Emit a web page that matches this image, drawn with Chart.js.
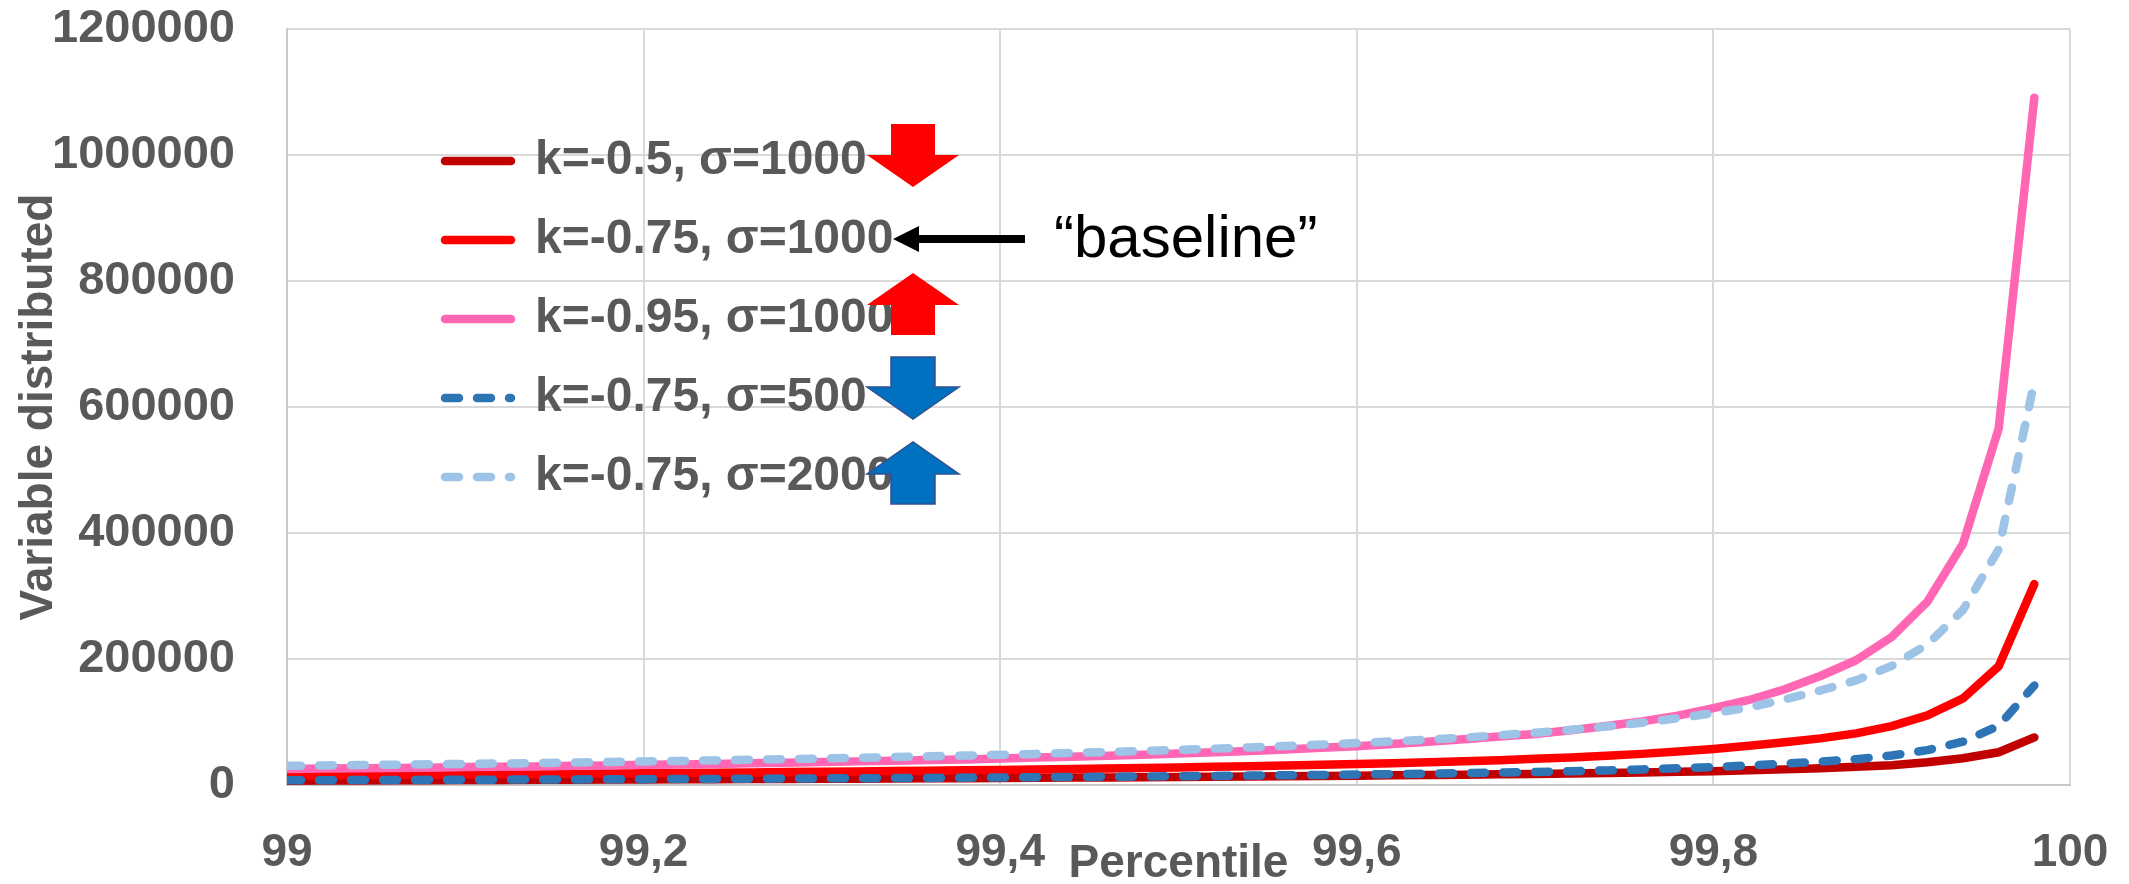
<!DOCTYPE html>
<html>
<head>
<meta charset="utf-8">
<title>Variable distributed vs percentile</title>
<script src="https://cdn.jsdelivr.net/npm/chart.js@4.4.1/dist/chart.umd.min.js"></script>
<style>
  html, body { margin: 0; padding: 0; background: #fff; }
  #wrap { width: 2129px; height: 884px; }
</style>
</head>
<body>
<div id="wrap"><canvas id="gpdChart"></canvas></div>
<script>
// percentile positions (x)
const percentiles = [99, 99.02, 99.04, 99.06, 99.08, 99.1, 99.12, 99.14, 99.16, 99.18,
    99.2, 99.22, 99.24, 99.26, 99.28, 99.3, 99.32, 99.34, 99.36, 99.38,
    99.4, 99.42, 99.44, 99.46, 99.48, 99.5, 99.52, 99.54, 99.56, 99.58,
    99.6, 99.62, 99.64, 99.66, 99.68, 99.7, 99.72, 99.74, 99.76, 99.78,
    99.8, 99.82, 99.84, 99.86, 99.88, 99.9, 99.92, 99.94, 99.96, 99.98];

// values
const k050s1000 = [6800, 7000, 7200, 7400, 7600, 7800, 8000, 8200, 8400, 8600,
    8800, 9000, 9200, 9400, 9600, 9900, 10100, 10400, 10600, 10900,
    11200, 11500, 11800, 12100, 12400, 12800, 13100, 13500, 13900, 14300,
    14800, 15300, 15800, 16300, 16900, 17500, 18200, 19000, 19900, 20900,
    22000, 23300, 24800, 26600, 28800, 31500, 36000, 42500, 52000, 75500];
const k075s1000 = [15000, 15300, 15600, 16000, 16300, 16700, 17000, 17400, 17800, 18200,
    18600, 19000, 19500, 20000, 20500, 21000, 21500, 22100, 22700, 23300,
    24000, 24700, 25400, 26200, 27000, 27900, 28800, 29800, 30900, 32000,
    33200, 34600, 36000, 37600, 39400, 41500, 43800, 46300, 49400, 53000,
    57300, 62300, 67700, 74000, 82000, 93500, 110500, 137500, 188500, 319000];
const k095s1000 = [25500, 26000, 26500, 27000, 27500, 28500, 29000, 29500, 30500, 31000,
    32000, 32500, 33500, 34500, 35500, 36500, 37500, 38500, 39500, 40500,
    42000, 43500, 45000, 46500, 48000, 50000, 52000, 54000, 56500, 59000,
    61500, 65000, 68500, 72500, 77000, 81000, 87000, 93500, 101000, 110000,
    122000, 135000, 152000, 173000, 198000, 235000, 291000, 383000, 566000, 1091000];
const k075s500 = [7500, 7600, 7800, 8000, 8200, 8300, 8500, 8700, 8900, 9100,
    9300, 9500, 9700, 10000, 10200, 10500, 10800, 11000, 11300, 11700,
    12000, 12300, 12700, 13100, 13500, 14000, 14400, 14900, 15400, 16000,
    16600, 17300, 18000, 18800, 19700, 20700, 21900, 23200, 24700, 26500,
    28600, 31000, 33800, 37000, 41000, 46800, 55300, 68800, 94000, 158000];
const k075s2000 = [30500, 31000, 31600, 32200, 32800, 33500, 34100, 34800, 35500, 36400,
    37300, 38100, 39000, 40000, 41000, 42000, 43100, 44300, 45500, 46700,
    48000, 49400, 50900, 52400, 54100, 55900, 57700, 59700, 61800, 64100,
    66500, 69200, 72100, 75300, 78900, 83000, 87600, 92800, 98900, 106000,
    114000, 123000, 136000, 150000, 166000, 189000, 223000, 278000, 374000, 640000];

const seriesNames = ['k=-0.5, σ=1000', 'k=-0.75, σ=1000', 'k=-0.95, σ=1000', 'k=-0.75, σ=500', 'k=-0.75, σ=2000'];
const xTickLabels = ['99', '99,2', '99,4', '99,6', '99,8', '100'];
const yTickLabels = ['0', '200000', '400000', '600000', '800000', '1000000', '1200000'];

const FONT = "'Liberation Sans', Arial, sans-serif";
const GREY = '#595959';

function pts(vals) {
    return percentiles.map((x, i) => ({ x: x, y: vals[i] }));
}

function line(label, vals, color, dash, order) {
    return {
        label: label,
        data: pts(vals),
        borderColor: color,
        backgroundColor: color,
        borderWidth: 8.5,
        borderDash: dash,
        borderCapStyle: 'round',
        borderJoinStyle: 'round',
        pointRadius: 0,
        tension: 0,
        fill: false,
        order: order
    };
}

// put the legend inside the plot, upper left
const legendPlacer = {
    id: 'legendPlacer',
    afterLayout(chart) {
        const lg = chart.legend, ca = chart.chartArea;
        const w = lg.width, h = lg.height;
        lg.left = ca.left + 127;
        lg.top = ca.top + 77;
        lg.right = lg.left + w;
        lg.bottom = lg.top + h;
    }
};

// block arrows and the "baseline" note next to the legend
function blockArrow(ctx, cx, yTail, yBase, yTip, fill, stroke) {
    ctx.beginPath();
    ctx.moveTo(cx - 22, yTail);
    ctx.lineTo(cx + 22, yTail);
    ctx.lineTo(cx + 22, yBase);
    ctx.lineTo(cx + 46, yBase);
    ctx.lineTo(cx, yTip);
    ctx.lineTo(cx - 46, yBase);
    ctx.lineTo(cx - 22, yBase);
    ctx.closePath();
    ctx.fillStyle = fill;
    ctx.fill();
    if (stroke) {
        ctx.strokeStyle = stroke;
        ctx.lineWidth = 1.5;
        ctx.stroke();
    }
}

const notes = {
    id: 'notes',
    afterDraw(chart) {
        const ctx = chart.ctx, ca = chart.chartArea;
        const L = ca.left, T = ca.top;
        const cx = L + 626;
        ctx.save();
        blockArrow(ctx, cx, T + 95, T + 126, T + 158, '#FF0000');
        blockArrow(ctx, cx, T + 306, T + 276, T + 244, '#FF0000');
        blockArrow(ctx, cx, T + 328, T + 358, T + 390, '#0070C0', '#2F528F');
        blockArrow(ctx, cx, T + 475, T + 445, T + 413, '#0070C0', '#2F528F');

        // black pointer to the baseline series
        ctx.fillStyle = '#000';
        ctx.fillRect(L + 628, T + 206, 110, 8);
        ctx.beginPath();
        ctx.moveTo(L + 606, T + 210);
        ctx.lineTo(L + 632, T + 197);
        ctx.lineTo(L + 632, T + 223);
        ctx.closePath();
        ctx.fill();

        ctx.font = '60px ' + FONT;
        ctx.textAlign = 'left';
        ctx.textBaseline = 'alphabetic';
        ctx.fillText('\u201Cbaseline\u201D', L + 767, T + 228);
        ctx.restore();
    }
};

document.addEventListener("DOMContentLoaded", function() {
    const ctx = document.getElementById('gpdChart').getContext('2d');
    const baseLabels = Chart.defaults.plugins.legend.labels.generateLabels;

    new Chart(ctx, {
        type: 'line',
        data: {
            datasets: [
                line(seriesNames[0], k050s1000, '#C00000', [], 5),
                line(seriesNames[1], k075s1000, '#FF0000', [], 4),
                line(seriesNames[2], k095s1000, '#FF66B3', [], 3),
                line(seriesNames[3], k075s500, '#2E75B6', [14, 18], 2),
                line(seriesNames[4], k075s2000, '#9DC3E6', [14, 18], 1)
            ]
        },
        options: {
            responsive: true,
            maintainAspectRatio: false,
            animation: false,
            devicePixelRatio: 1,
            layout: { padding: 0 },
            scales: {
                x: {
                    type: 'linear',
                    min: 99,
                    max: 100,
                    ticks: {
                        stepSize: 0.2,
                        padding: 41,
                        color: GREY,
                        font: { family: FONT, size: 46, weight: 'bold' },
                        callback: (v, i) => xTickLabels[i]
                    },
                    grid: { color: '#D9D9D9', lineWidth: 2, drawTicks: false },
                    border: { color: '#C8C8C8', width: 2 },
                    title: {
                        display: true,
                        text: 'Percentile',
                        color: GREY,
                        font: { family: FONT, size: 46, weight: 'bold' },
                        padding: { top: -44.8, bottom: -7.6 }
                    },
                    afterFit: function(scale) {
                        scale.height = 99;
                        scale.paddingLeft = 26;
                        scale.paddingRight = 59;
                    }
                },
                y: {
                    min: 0,
                    max: 1200000,
                    ticks: {
                        stepSize: 200000,
                        padding: 52,
                        color: GREY,
                        font: { family: FONT, size: 47, weight: 'bold' },
                        callback: (v, i) => yTickLabels[i]
                    },
                    grid: { color: '#D9D9D9', lineWidth: 2, drawTicks: false },
                    border: { color: '#C8C8C8', width: 2 },
                    title: {
                        display: true,
                        text: 'Variable distributed',
                        color: GREY,
                        font: { family: FONT, size: 46, weight: 'bold' },
                        padding: { top: 12, bottom: 0 }
                    },
                    afterFit: function(scale) {
                        scale.width = 287;
                        scale.paddingTop = 29;
                        scale.paddingBottom = 28;
                    }
                }
            },
            plugins: {
                legend: {
                    position: 'chartArea',
                    align: 'start',
                    labels: {
                        usePointStyle: true,
                        pointStyle: 'line',
                        pointStyleWidth: 66,
                        padding: 31,
                        color: GREY,
                        font: { family: FONT, size: 48, weight: 'bold' },
                        sort: (a, b) => a.datasetIndex - b.datasetIndex,
                        generateLabels: function(chart) {
                            return baseLabels(chart).map(item => {
                                const ds = chart.data.datasets[item.datasetIndex];
                                item.lineWidth = ds.borderWidth;
                                item.lineDash = ds.borderDash;
                                item.lineCap = 'round';
                                item.strokeStyle = ds.borderColor;
                                return item;
                            });
                        }
                    }
                },
                tooltip: { enabled: false }
            }
        },
        plugins: [legendPlacer, notes]
    });
});
</script>
</body>
</html>
